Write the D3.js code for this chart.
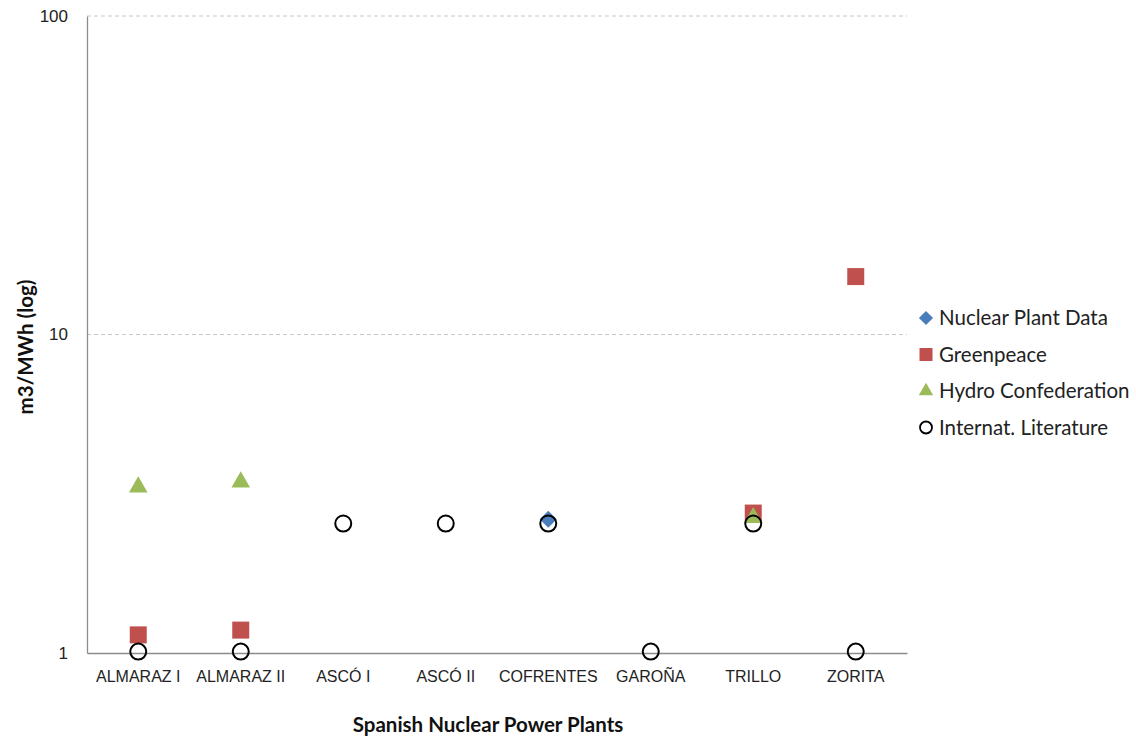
<!DOCTYPE html>
<html>
<head>
<meta charset="utf-8">
<script src="https://cdn.jsdelivr.net/npm/d3@7"></script>
<style>
  html, body { margin: 0; padding: 0; background: #fff; }
  svg { display: block; font-family: Lato, "Open Sans", sans-serif; }
</style>
</head>
<body>
<svg id="chart" width="1136" height="740"></svg>
<script>
// Water consumption of Spanish nuclear power plants, m3/MWh, by source
const plants = ["ALMARAZ I", "ALMARAZ II", "ASCÓ I", "ASCÓ II", "COFRENTES", "GAROÑA", "TRILLO", "ZORITA"];

// null = no value reported for that plant
const nuclearPlantData   = [null, null, null, null, 2.63, null, null, null];
const greenpeace         = [1.14, 1.18, null, null, null, null, 2.75, 15.2];
const hydroConfederation = [3.32, 3.44, null, null, null, null, 2.66, null];
const internatLiterature = [1.01, 1.01, 2.55, 2.55, 2.55, 1.01, 2.55, 1.01];

const yTicks = [1, 10, 100];

const seriesNames = ["Nuclear Plant Data", "Greenpeace", "Hydro Confederation", "Internat. Literature"];

const svg = d3.select("#chart");
const margin = { left: 87, right: 229, top: 16, bottom: 87 };
const W = 1136, H = 740;

const x = d3.scaleBand().domain(plants)
  .range([margin.left, W - margin.right]).paddingInner(0).paddingOuter(0);
const y = d3.scaleLog().domain([1, 100]).range([H - margin.bottom, margin.top]);

const axisColor = "#8c8c8c";

// gridlines (dashed, above the baseline)
svg.append("g").selectAll("line")
  .data(yTicks.filter(t => t > 1))
  .join("line")
  .attr("x1", margin.left).attr("x2", W - margin.right)
  .attr("y1", d => y(d)).attr("y2", d => y(d))
  .attr("stroke", "#c8c8c8").attr("stroke-width", 1)
  .attr("stroke-dasharray", "4,3");

// y axis
const yAxis = svg.append("g")
  .attr("transform", `translate(${margin.left},0)`)
  .call(d3.axisLeft(y).tickValues(yTicks).tickFormat(d3.format("d")).tickSize(0).tickPadding(19));
yAxis.select(".domain").attr("stroke", axisColor).attr("stroke-width", 1.3);
yAxis.selectAll("text").attr("font-size", 17).attr("fill", "#222");

// x axis
const xAxis = svg.append("g")
  .attr("transform", `translate(0,${H - margin.bottom})`)
  .call(d3.axisBottom(x).tickSize(0).tickPadding(18));
xAxis.select(".domain").attr("stroke", axisColor).attr("stroke-width", 1.3);
xAxis.selectAll("text").attr("font-size", 16).attr("fill", "#222");

// axis titles
svg.append("text")
  .attr("x", (margin.left + W - margin.right) / 2 - 9).attr("y", 732)
  .attr("text-anchor", "middle").attr("font-size", 20.5).attr("font-weight", "bold")
  .attr("fill", "#111").text("Spanish Nuclear Power Plants");

svg.append("text")
  .attr("transform", `translate(26,347) rotate(-90)`)
  .attr("text-anchor", "middle").attr("dy", "0.35em").attr("font-size", 20.5).attr("font-weight", "bold")
  .attr("fill", "#111").text("m3/MWh (log)");

// marker shapes
const sq = d3.symbol().type(d3.symbolSquare).size(17 * 17);
const tri = d3.symbol().type(d3.symbolTriangle).size(150);
const dia = d3.symbol().type(d3.symbolSquare).size(12 * 12);   // rotated 45° below

const series = [
  { name: seriesNames[0], values: nuclearPlantData,   draw: g => g.append("path").attr("d", dia).attr("transform", "rotate(45)").attr("fill", "#4a7ebb") },
  { name: seriesNames[1], values: greenpeace,         draw: g => g.append("path").attr("d", sq).attr("fill", "#c0504d") },
  { name: seriesNames[2], values: hydroConfederation, draw: g => g.append("path").attr("d", tri).attr("fill", "#9bbb59") },
  { name: seriesNames[3], values: internatLiterature, draw: g => g.append("circle").attr("r", 8).attr("fill", "none").attr("stroke", "#000").attr("stroke-width", 2) }
];

const cx = p => x(p) + x.bandwidth() / 2;

// points: drawn in series order so later series sit on top
series.forEach(s => {
  const pts = plants.map((p, i) => ({ p, v: s.values[i] })).filter(d => d.v != null);
  const g = svg.append("g").selectAll("g").data(pts).join("g")
    .attr("transform", d => `translate(${cx(d.p)},${y(d.v)})`);
  g.each(function () { s.draw(d3.select(this)); });
});

// legend
const legend = svg.append("g").attr("transform", "translate(926,318)");
series.forEach((s, i) => {
  const row = legend.append("g").attr("transform", `translate(0,${i * 36.5})`);
  const m = row.append("g");
  if (i === 0) m.append("path").attr("d", d3.symbol().type(d3.symbolSquare).size(10 * 10)).attr("transform", "rotate(45)").attr("fill", "#4a7ebb");
  if (i === 1) m.append("rect").attr("x", -6.5).attr("y", -6.5).attr("width", 13).attr("height", 13).attr("fill", "#c0504d");
  if (i === 2) m.append("path").attr("d", d3.symbol().type(d3.symbolTriangle).size(90)).attr("fill", "#9bbb59");
  if (i === 3) m.append("circle").attr("r", 6).attr("fill", "none").attr("stroke", "#000").attr("stroke-width", 1.8);
  row.append("text").attr("x", 13).attr("y", 0).attr("dy", "0.35em")
    .attr("font-size", 20.5).attr("fill", "#222").text(s.name);
});
</script>
</body>
</html>
